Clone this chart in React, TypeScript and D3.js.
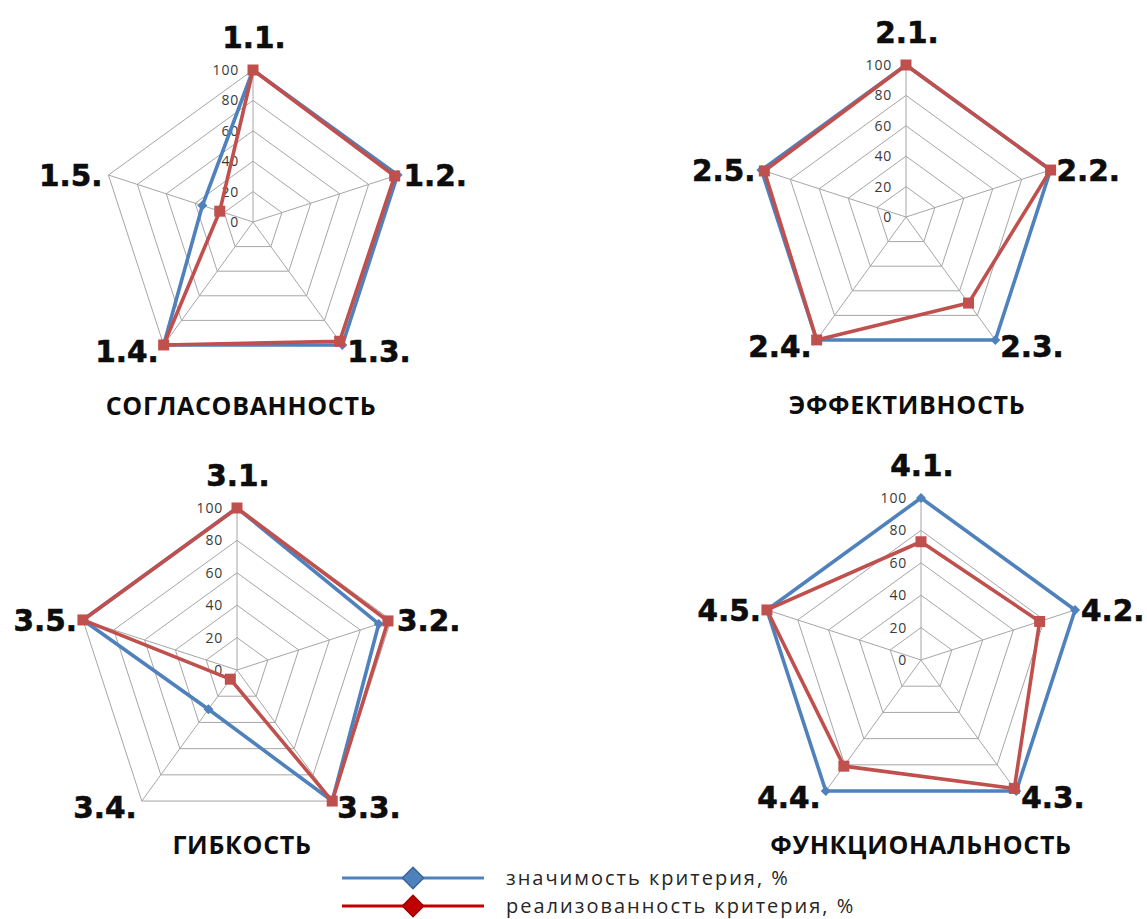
import React from "react";
import * as d3 from "d3";

// ---- data ----
const levels = [0, 20, 40, 60, 80, 100];

const axes1 = ["1.1.", "1.2.", "1.3.", "1.4.", "1.5."];
const axes2 = ["2.1.", "2.2.", "2.3.", "2.4.", "2.5."];
const axes3 = ["3.1.", "3.2.", "3.3.", "3.4.", "3.5."];
const axes4 = ["4.1.", "4.2.", "4.3.", "4.4.", "4.5."];

const significance1 = [100, 100, 100, 100, 35];
const realization1 = [100, 98, 97, 100, 23];
const significance2 = [100, 100, 100, 100, 100];
const realization2 = [100, 100, 70, 100, 98];
const significance3 = [100, 92, 100, 30, 100];
const realization3 = [100, 98, 100, 7, 100];
const significance4 = [100, 100, 100, 100, 100];
const realization4 = [73, 77, 98, 81, 100];

const titles = ["СОГЛАСОВАННОСТЬ", "ЭФФЕКТИВНОСТЬ", "ГИБКОСТЬ", "ФУНКЦИОНАЛЬНОСТЬ"];
const legendLabels = ["значимость критерия, %", "реализованность критерия, %"];

// ---- layout / style ----
const layout = [
  { cx: 253, cy: 222, r: 152, tx: 241, ty: 406 },
  { cx: 906, cy: 217, r: 152, tx: 907, ty: 405 },
  { cx: 237, cy: 670, r: 162, tx: 242, ty: 845 },
  { cx: 921, cy: 660, r: 162, tx: 921, ty: 845 },
];

const BLUE = "#4f81bd";
const RED = "#c0504d";
const GRID = "#a6a6a6";
const LABEL_FS = 29.5;

type RadarProps = {
  axes: string[];
  sig: number[];
  real: number[];
  title: string;
  cx: number;
  cy: number;
  r: number;
  tx: number;
  ty: number;
};

function Radar({ axes, sig, real, title, cx, cy, r, tx, ty }: RadarProps) {
  const n = axes.length;
  const rScale = d3.scaleLinear().domain([0, 100]).range([0, r]);
  const angle = d3.scaleLinear().domain([0, n]).range([0, 2 * Math.PI]);
  const radial = d3
    .lineRadial<number>()
    .angle((_d, i) => angle(i))
    .radius((d) => rScale(d))
    .curve(d3.curveLinearClosed);
  const pt = (v: number, i: number): [number, number] => [
    cx + rScale(v) * Math.sin(angle(i)),
    cy - rScale(v) * Math.cos(angle(i)),
  ];
  const diamond = d3.symbol(d3.symbolSquare, 50)()!;
  const square = d3.symbol(d3.symbolSquare, 121)()!;

  const labelPos = (i: number) => {
    const [vx, vy] = pt(100, i);
    const c = 0.36 * LABEL_FS;
    if (i === 0) return { x: vx + 1, y: vy - 22, anchor: "middle" };
    if (i === 1) return { x: vx + 6, y: vy + c, anchor: "start" };
    if (i === 2) return { x: vx + 5, y: vy + 6 + c, anchor: "start" };
    if (i === 3) return { x: vx - 5, y: vy + 6 + c, anchor: "end" };
    return { x: vx - 6, y: vy + c, anchor: "end" };
  };

  return (
    <g>
      <g transform={`translate(${cx},${cy})`}>
        {levels
          .filter((l) => l > 0)
          .map((l) => (
            <path key={l} d={radial(axes.map(() => l))!} fill="none" stroke={GRID} strokeWidth={1} />
          ))}
        {axes.map((a, i) => {
          const [x, y] = pt(100, i);
          return <line key={a} x1={0} y1={0} x2={x - cx} y2={y - cy} stroke={GRID} strokeWidth={1} />;
        })}
      </g>
      {levels.map((l) => (
        <text
          key={l}
          x={cx - 14}
          y={cy - rScale(l) + 5}
          textAnchor="end"
          fontFamily="'Open Sans', sans-serif"
          fontSize={14}
          letterSpacing={0.8}
          fill="#3a3a3a"
        >
          {l}
        </text>
      ))}
      <path
        transform={`translate(${cx},${cy})`}
        d={radial(sig)!}
        fill="none"
        stroke={BLUE}
        strokeWidth={3.6}
        strokeLinejoin="round"
      />
      {sig.map((v, i) => {
        const [x, y] = pt(v, i);
        return <path key={i} d={diamond} transform={`translate(${x},${y}) rotate(45)`} fill={BLUE} />;
      })}
      <path
        transform={`translate(${cx},${cy})`}
        d={radial(real)!}
        fill="none"
        stroke={RED}
        strokeWidth={3.6}
        strokeLinejoin="round"
      />
      {real.map((v, i) => {
        const [x, y] = pt(v, i);
        return <path key={i} d={square} transform={`translate(${x},${y})`} fill={RED} />;
      })}
      {axes.map((a, i) => {
        const p = labelPos(i);
        return (
          <text
            key={a}
            x={p.x}
            y={p.y}
            textAnchor={p.anchor as any}
            fontFamily="'DejaVu Sans', sans-serif"
            fontWeight="bold"
            fontSize={LABEL_FS}
            fill="#0d0d0d"
            stroke="#0d0d0d"
            strokeWidth={0.6}
          >
            {a}
          </text>
        );
      })}
      <text
        x={tx}
        y={ty + 9}
        textAnchor="middle"
        fontFamily="'Open Sans', sans-serif"
        fontWeight="bold"
        fontSize={25}
        letterSpacing={0.7}
        fill="#0d0d0d"
      >
        {title}
      </text>
    </g>
  );
}

export default function App() {
  const charts = [
    { axes: axes1, sig: significance1, real: realization1 },
    { axes: axes2, sig: significance2, real: realization2 },
    { axes: axes3, sig: significance3, real: realization3 },
    { axes: axes4, sig: significance4, real: realization4 },
  ];
  const legendColors = [
    { line: BLUE, fill: BLUE, stroke: "#3a6599" },
    { line: "#c00000", fill: "#c00000", stroke: "#a00000" },
  ];
  const legendY = [878, 906];
  const legendMarker = d3.symbol(d3.symbolSquare, 225)()!;
  return (
    <svg
      width={1147}
      height={919}
      style={{ position: "absolute", left: 0, top: 0, background: "#fff" }}
    >
      <rect width={1147} height={919} fill="#fff" />
      {charts.map((c, k) => (
        <Radar key={k} {...c} title={titles[k]} {...layout[k]} />
      ))}
      {legendLabels.map((lab, k) => (
        <g key={lab}>
          <line x1={342} x2={484} y1={legendY[k]} y2={legendY[k]} stroke={legendColors[k].line} strokeWidth={3} />
          <path
            d={legendMarker}
            transform={`translate(413,${legendY[k]}) rotate(45)`}
            fill={legendColors[k].fill}
            stroke={legendColors[k].stroke}
            strokeWidth={1.5}
          />
          <text
            x={506}
            y={legendY[k] + 7}
            fontFamily="'Open Sans', sans-serif"
            fontSize={20}
            letterSpacing={2}
            fill="#262626"
          >
            {lab}
          </text>
        </g>
      ))}
    </svg>
  );
}
